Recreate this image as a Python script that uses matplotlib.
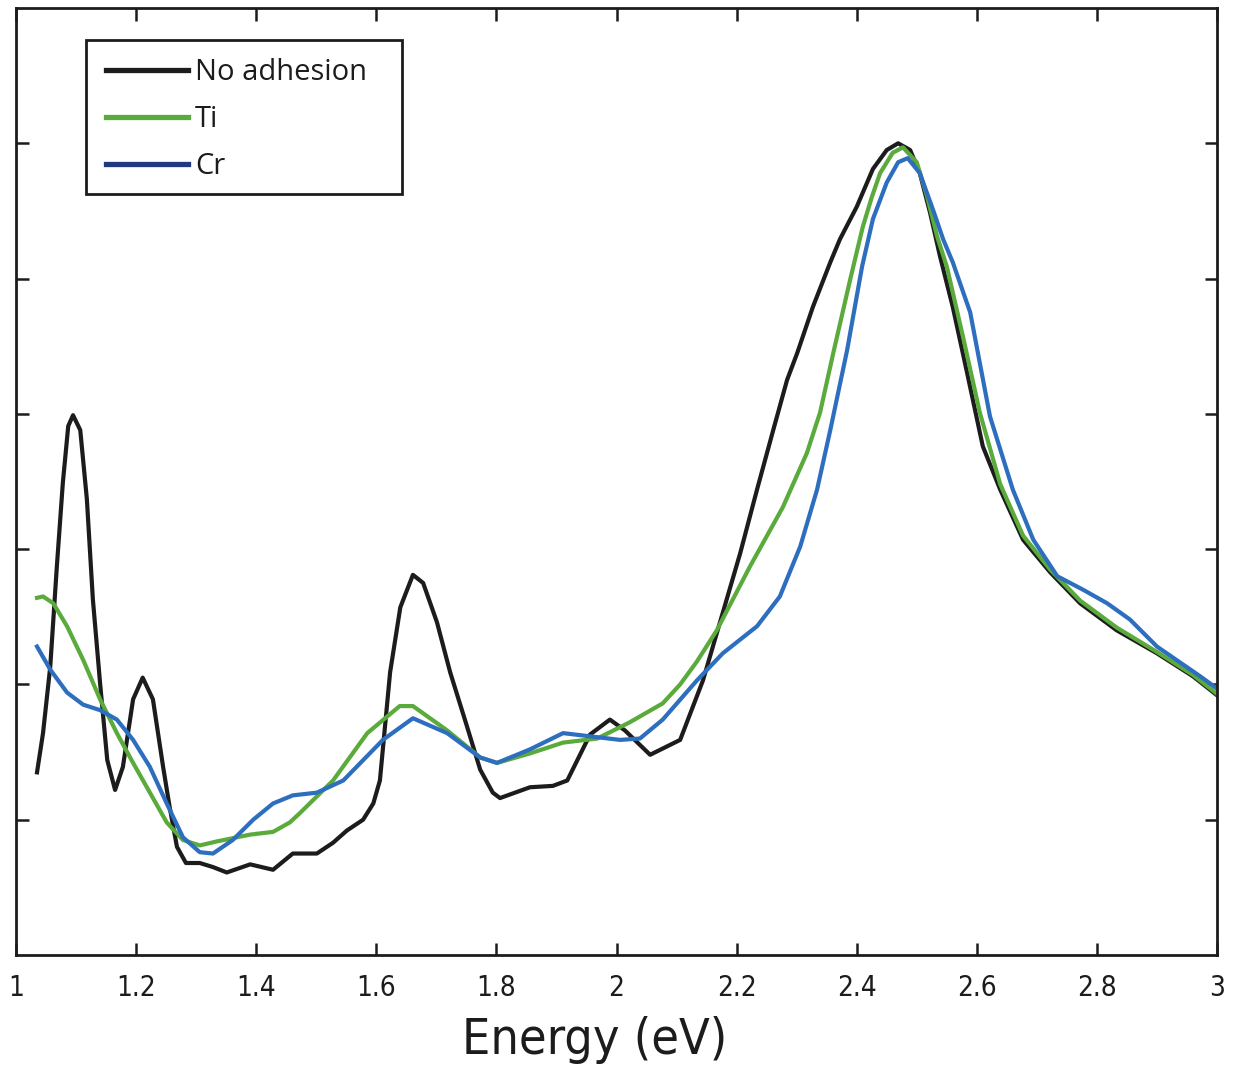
import matplotlib
matplotlib.use("Agg")
import matplotlib.pyplot as plt
from matplotlib.lines import Line2D
from matplotlib.patches import Rectangle

# ---- data ----
energy_none = [1.035, 1.045, 1.057, 1.068, 1.078, 1.087, 1.095, 1.107, 1.118, 1.128,
               1.140, 1.152, 1.165, 1.178, 1.195, 1.211, 1.228, 1.245, 1.256, 1.268,
               1.283, 1.306, 1.328, 1.351, 1.390, 1.428, 1.461, 1.501, 1.528, 1.551,
               1.578, 1.595, 1.606, 1.623, 1.640, 1.661, 1.678, 1.701, 1.723, 1.751,
               1.773, 1.794, 1.806, 1.856, 1.894, 1.918, 1.956, 1.989, 2.014, 2.056,
               2.106, 2.144, 2.177, 2.206, 2.234, 2.261, 2.284, 2.301, 2.327, 2.356,
               2.372, 2.400, 2.427, 2.450, 2.469, 2.489, 2.505, 2.522, 2.539, 2.560,
               2.584, 2.610, 2.639, 2.677, 2.722, 2.772, 2.833, 2.900, 2.960, 3.000]
signal_none = [1.35, 1.64, 2.13, 2.87, 3.49, 3.91, 3.99, 3.88, 3.37, 2.63,
               2.01, 1.44, 1.22, 1.39, 1.89, 2.05, 1.89, 1.39, 1.09, 0.80,
               0.68, 0.68, 0.65, 0.61, 0.67, 0.63, 0.75, 0.75, 0.83, 0.92,
               1.00, 1.12, 1.29, 2.09, 2.57, 2.81, 2.75, 2.46, 2.09, 1.69,
               1.37, 1.20, 1.16, 1.24, 1.25, 1.29, 1.63, 1.74, 1.66, 1.48,
               1.59, 2.03, 2.53, 2.97, 3.44, 3.88, 4.25, 4.45, 4.79, 5.12,
               5.29, 5.53, 5.81, 5.95, 6.00, 5.95, 5.78, 5.49, 5.16, 4.79,
               4.30, 3.76, 3.44, 3.07, 2.83, 2.60, 2.40, 2.23, 2.06, 1.92]

energy_ti = [1.035, 1.045, 1.062, 1.085, 1.112, 1.140, 1.168, 1.195, 1.223, 1.251,
             1.278, 1.306, 1.335, 1.390, 1.428, 1.456, 1.473, 1.528, 1.585, 1.639,
             1.661, 1.718, 1.773, 1.801, 1.856, 1.911, 1.968, 2.022, 2.077, 2.106,
             2.134, 2.167, 2.222, 2.277, 2.317, 2.339, 2.361, 2.389, 2.410, 2.425,
             2.439, 2.460, 2.477, 2.500, 2.517, 2.534, 2.550, 2.577, 2.605, 2.639,
             2.677, 2.722, 2.772, 2.833, 2.900, 2.960, 3.000]
signal_ti = [2.64, 2.65, 2.60, 2.43, 2.18, 1.89, 1.64, 1.42, 1.20, 0.98,
             0.85, 0.81, 0.84, 0.89, 0.91, 0.98, 1.05, 1.29, 1.64, 1.84,
             1.84, 1.66, 1.46, 1.42, 1.49, 1.57, 1.60, 1.72, 1.86, 2.00,
             2.17, 2.40, 2.87, 3.31, 3.71, 4.01, 4.45, 4.99, 5.38, 5.60,
             5.78, 5.93, 5.97, 5.86, 5.61, 5.31, 5.09, 4.57, 4.01, 3.48,
             3.10, 2.85, 2.62, 2.42, 2.24, 2.07, 1.93]

energy_cr = [1.035, 1.057, 1.085, 1.112, 1.140, 1.168, 1.195, 1.223, 1.251, 1.278,
             1.306, 1.328, 1.361, 1.395, 1.428, 1.461, 1.501, 1.545, 1.611, 1.661,
             1.718, 1.773, 1.801, 1.856, 1.911, 1.968, 2.006, 2.039, 2.077, 2.134,
             2.177, 2.234, 2.272, 2.306, 2.334, 2.356, 2.384, 2.409, 2.427, 2.450,
             2.469, 2.485, 2.505, 2.527, 2.544, 2.560, 2.589, 2.622, 2.660, 2.694,
             2.734, 2.777, 2.817, 2.855, 2.900, 2.972, 3.000]
signal_cr = [2.28, 2.11, 1.94, 1.85, 1.81, 1.74, 1.59, 1.39, 1.12, 0.87,
             0.76, 0.75, 0.85, 1.00, 1.12, 1.18, 1.20, 1.29, 1.59, 1.75,
             1.64, 1.46, 1.42, 1.52, 1.64, 1.61, 1.59, 1.60, 1.74, 2.03,
             2.23, 2.43, 2.65, 3.02, 3.44, 3.88, 4.47, 5.09, 5.44, 5.71,
             5.86, 5.89, 5.78, 5.51, 5.29, 5.12, 4.75, 3.98, 3.44, 3.07,
             2.80, 2.70, 2.60, 2.48, 2.28, 2.06, 1.97]

series_labels = ["No adhesion", "Ti", "Cr"]
x_ticks = [1, 1.2, 1.4, 1.6, 1.8, 2, 2.2, 2.4, 2.6, 2.8, 3]
x_tick_labels = ["1", "1.2", "1.4", "1.6", "1.8", "2", "2.2", "2.4", "2.6", "2.8", "3"]
y_ticks = [1, 2, 3, 4, 5, 6]

# ---- style ----
c_black = "#1c1c1c"
c_green = "#5aaa3c"
c_blue = "#2d6ebe"
c_navy = "#1f3a80"

W, H = 1235, 1067
AX_L, AX_R, AX_T, AX_B = 16, 1217, 8, 955
fig = plt.figure(figsize=(W / 100, H / 100), dpi=100)
ax = fig.add_axes([AX_L / W, 1 - AX_B / H, (AX_R - AX_L) / W, (AX_B - AX_T) / H])


def ax_frac(px, py):
    return ((px - AX_L) / (AX_R - AX_L), 1 - (py - AX_T) / (AX_B - AX_T))


lw = 3.0
ax.plot(energy_none, signal_none, color=c_black, lw=lw, solid_joinstyle="round")
ax.plot(energy_ti, signal_ti, color=c_green, lw=lw, solid_joinstyle="round")
ax.plot(energy_cr, signal_cr, color=c_blue, lw=lw, solid_joinstyle="round")

ax.set_xlim(1, 3)
ax.set_ylim(0, 7)
ax.set_xticks(x_ticks)
ax.set_xticklabels(x_tick_labels, fontsize=20, family="DejaVu Sans",
                   fontstretch="condensed")
ax.set_yticks(y_ticks)
ax.set_yticklabels([])
ax.tick_params(direction="in", length=9, width=1.8, top=True, right=True,
               pad=14, color=c_black, labelcolor=c_black)
for s in ax.spines.values():
    s.set_linewidth(2.0)
    s.set_color(c_black)

ax.set_xlabel("Energy (eV)", fontsize=36, family="DejaVu Sans",
              fontstretch="condensed", color=c_black)
ax.xaxis.set_label_coords((595 - AX_L) / (AX_R - AX_L), -(1040 - AX_B) / (AX_B - AX_T))
ax.xaxis.label.set_va("center")

# legend box
x0, y1 = ax_frac(86, 40)
x1, y0 = ax_frac(402, 194)
ax.add_patch(Rectangle((x0, y0), x1 - x0, y1 - y0, transform=ax.transAxes,
                       facecolor="white", edgecolor=c_black, lw=2.0, zorder=4))

handles = [Line2D([], [], color=c_black, lw=3.8),
           Line2D([], [], color=c_green, lw=3.8),
           Line2D([], [], color=c_navy, lw=3.8)]
leg = ax.legend(handles, series_labels, loc="upper left",
                bbox_to_anchor=ax_frac(93, 45),
                borderaxespad=0, frameon=False,
                prop={"family": "Open Sans", "size": 21},
                handlelength=2.8, handletextpad=0.25, labelspacing=0.62,
                borderpad=0.45)
leg.set_zorder(5)
for t in leg.get_texts():
    t.set_color(c_black)

fig.savefig("out.png", dpi=100)
